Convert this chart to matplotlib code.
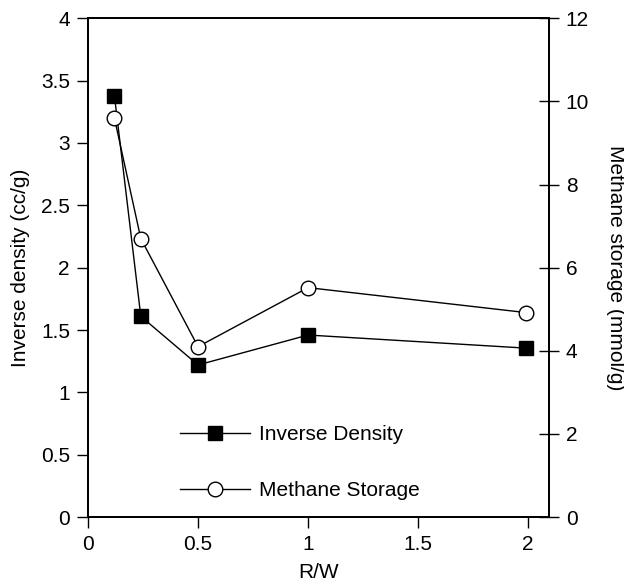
import matplotlib
matplotlib.use('Agg')
from matplotlib import pyplot as plt

plt.rcParams['font.family'] = ['Liberation Sans', 'DejaVu Sans']
plt.rcParams['font.size'] = 15

rw = [0.12, 0.24, 0.5, 1.0, 1.99]
inv_density = [3.38, 1.61, 1.22, 1.46, 1.355]
methane = [9.6, 6.7, 4.1, 5.52, 4.92]

fig = plt.figure(figsize=(6.24, 5.87), dpi=100)
ax = fig.add_axes([0.141, 0.119, 0.739, 0.85])
ax2 = ax.twinx()

l1, = ax.plot(rw, inv_density, color='black', lw=1, marker='s', ms=10.5,
              mfc='black', mec='black', label='Inverse Density')
l2, = ax2.plot(rw, methane, color='black', lw=1, marker='o', ms=10.5,
               mfc='white', mec='black', mew=1, label='Methane Storage')

ax.set_xlim(0, 2.095)
ax.set_ylim(0, 4)
ax2.set_ylim(0, 12)
ax.set_xticks([0, 0.5, 1, 1.5, 2])
ax.set_xticklabels(['0', '0.5', '1', '1.5', '2'])
ax.set_yticks([0, 0.5, 1, 1.5, 2, 2.5, 3, 3.5, 4])
ax.set_yticklabels(['0', '0.5', '1', '1.5', '2', '2.5', '3', '3.5', '4'])
ax2.set_yticks([0, 2, 4, 6, 8, 10, 12])

ax.tick_params(axis='both', direction='out', length=8, width=1, pad=5)
ax2.tick_params(axis='y', direction='inout', length=14, width=1, pad=5)
for s in ax.spines.values():
    s.set_linewidth(1.3)
for s in ax2.spines.values():
    s.set_linewidth(1.3)

ax.set_xlabel('R/W', labelpad=6)
ax.set_ylabel('Inverse density (cc/g)', labelpad=8)
ax2.set_ylabel('Methane storage (mmol/g)', rotation=-90, labelpad=26)

ax2.legend([l1, l2], ['Inverse Density', 'Methane Storage'], frameon=False,
           loc='lower left', bbox_to_anchor=(0.158, -0.004), handlelength=3.4,
           labelspacing=1.8, handletextpad=0.4, fontsize=15)

fig.savefig('out.png', dpi=100)
